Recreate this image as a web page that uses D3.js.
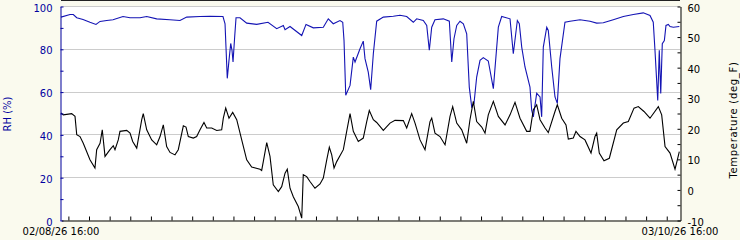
<!DOCTYPE html>
<html>
<head>
<meta charset="utf-8">
<script src="https://cdn.jsdelivr.net/npm/d3@7"></script>
<style>
  body { margin: 0; background: #fafaee; }
  svg { display: block; font-family: "DejaVu Sans", Verdana, sans-serif; }
</style>
</head>
<body>
<div id="chart"></div>
<script>
// RH (%) samples, hours after 02/08/26 16:00
var rhHours = [0, 10.5, 14.3, 18.3, 25.6, 33.7, 40.7, 45.4, 53.2, 60.5, 72.1, 80.3, 91.9, 99.7, 111.3, 126.6, 138.4, 146.2, 161.7, 173.3,
  188.4, 190.8, 191.9, 193.4, 195.4, 197.4, 198.9, 200.1, 202.0, 203.6, 208.2, 216.0, 227.6, 240.8, 250.9, 258.6, 260.6, 266.4, 280.0, 285.0,
  293.5, 305.1, 310.9, 316.7, 324.5, 327.7, 329.2, 331.2, 336.2, 340.0, 342.0, 347.8, 351.6, 353.6, 357.4, 360.2, 363.3, 367.2, 374.9, 386.5,
  394.3, 402.1, 409.8, 413.7, 421.4, 425.4, 428.4, 431.2, 435.0, 444.7, 451.7, 454.5, 457.1, 460.3, 464.1, 468.0, 471.9, 474.9, 477.7, 480.4,
  483.5, 487.4, 491.2, 497.0, 502.9, 508.7, 512.6, 522.3, 526.1, 530.8, 533.1, 535.9, 539.7, 545.5, 547.5, 549.4, 553.3, 557.2, 559.1, 561.0,
  565.0, 566.8, 570.8, 574.6, 577.3, 580.4, 586.2, 592.1, 603.7, 615.3, 623.1, 630.8, 642.4, 654.1, 665.7, 677.3, 685.1, 688.9, 690.9, 694.1,
  695.9, 697.6, 699.4, 701.8, 703.7, 706.4, 708.4, 712.2, 719.2];
var rhValues = [94.8, 96.0, 96.0, 94.5, 93.7, 92.4, 91.4, 92.8, 93.2, 93.6, 95.1, 94.5, 94.5, 95.1, 94.0, 93.6, 93.2, 94.8, 95.1, 95.2,
  95.1, 91.7, 80.8, 66.2, 74.6, 82.5, 79.3, 73.8, 85.5, 94.5, 94.5, 92.0, 91.4, 92.4, 89.4, 90.9, 88.9, 90.4, 86.2, 91.4,
  89.8, 90.1, 94.0, 91.7, 93.2, 92.4, 83.9, 58.3, 62.9, 76.1, 73.8, 80.0, 83.6, 75.4, 69.1, 60.9, 77.7, 92.9, 94.8, 95.2,
  95.7, 95.1, 92.4, 94.0, 93.2, 90.9, 79.3, 90.1, 93.6, 94.0, 92.9, 73.8, 84.7, 90.9, 92.9, 91.7, 87.0, 62.1, 52.8, 54.5,
  66.8, 74.6, 75.9, 74.3, 61.4, 90.1, 95.1, 94.0, 77.7, 93.2, 91.7, 80.8, 71.5, 62.1, 51.3, 48.2, 59.2, 57.5, 48.2, 80.8,
  90.1, 88.6, 71.5, 57.5, 54.5, 75.4, 92.4, 92.9, 93.6, 92.9, 92.0, 92.2, 93.6, 95.1, 96.0, 96.8, 95.6, 92.4, 79.3, 55.9,
  79.3, 59.1, 82.4, 83.9, 90.9, 91.4, 90.4, 90.1, 90.4];

// Temperature (deg_F) samples, hours after 02/08/26 16:00
var tempHours = [0, 2.7, 12.4, 16.3, 18.3, 22.1, 25.9, 33.7, 39.5, 41.5, 45.4, 48.0, 51.2, 57.0, 60.8, 62.8, 66.6, 68.6, 76.4, 80.3,
  83.4, 88.1, 93.9, 95.7, 99.7, 105.5, 111.3, 115.2, 119.0, 122.9, 126.8, 132.6, 136.4, 142.3, 145.4, 148.1, 153.9, 157.8, 161.7, 166.3,
  169.5, 175.3, 181.1, 186.9, 188.8, 191.6, 195.4, 199.7, 204.4, 210.2, 216.0, 221.8, 231.5, 233.4, 235.3, 239.3, 243.1, 246.9, 252.8, 256.7,
  260.6, 263.2, 266.4, 270.2, 276.0, 280.0, 281.8, 285.8, 289.6, 295.4, 301.3, 305.1, 309.1, 312.1, 314.9, 317.6, 320.7, 328.4, 332.3, 336.2,
  340.0, 345.8, 351.6, 355.6, 358.6, 363.3, 367.2, 374.9, 382.7, 388.5, 398.2, 402.1, 407.9, 411.8, 417.6, 423.4, 429.2, 431.2, 435.0, 440.8,
  446.7, 452.5, 455.6, 460.3, 466.1, 471.9, 475.7, 479.6, 483.5, 489.4, 493.2, 497.0, 502.9, 508.7, 516.5, 522.3, 528.1, 533.9, 541.7, 545.5,
  549.4, 553.3, 557.2, 563.0, 566.8, 574.6, 577.3, 582.4, 587.4, 590.1, 595.9, 599.0, 603.7, 609.5, 616.5, 621.1, 623.1, 626.1, 631.6, 637.8,
  646.4, 654.1, 659.9, 666.5, 671.5, 678.1, 685.1, 694.8, 698.7, 702.6, 708.4, 714.2, 716.9, 719.2];
var tempValues = [25.0, 24.4, 24.8, 23.9, 17.9, 17.3, 15.1, 9.7, 7.0, 13.0, 15.1, 19.5, 10.8, 13.0, 14.3, 13.0, 16.2, 19.0, 19.3, 18.4,
  15.7, 13.5, 22.8, 24.8, 19.5, 16.2, 14.6, 17.3, 21.1, 14.0, 12.1, 11.3, 13.0, 20.8, 20.4, 17.3, 16.8, 17.3, 19.5, 21.9,
  20.1, 20.1, 19.3, 19.5, 23.3, 26.6, 23.3, 25.2, 22.8, 16.2, 9.7, 7.3, 6.6, 6.2, 9.1, 15.3, 10.8, 1.5, -0.7, 0.9,
  5.3, 6.6, 0.4, -2.4, -5.6, -9.4, 4.8, 4.2, 2.6, 0.4, 1.8, 3.7, 9.7, 13.8, 11.3, 7.0, 9.1, 13.0, 19.0, 24.8,
  19.0, 15.7, 16.8, 22.2, 25.8, 22.8, 21.9, 19.3, 21.7, 22.6, 22.5, 20.1, 24.8, 21.7, 16.2, 13.0, 22.2, 23.3, 18.4, 17.3,
  14.6, 23.9, 27.1, 21.7, 19.5, 15.1, 22.8, 28.8, 22.2, 20.4, 18.4, 24.4, 28.8, 23.9, 21.1, 24.4, 28.5, 23.3, 19.0, 19.0,
  26.1, 27.7, 22.8, 20.1, 18.6, 25.5, 27.7, 23.3, 21.1, 16.5, 16.8, 19.0, 17.3, 16.2, 11.9, 17.3, 18.4, 11.9, 9.4, 10.2,
  19.5, 21.7, 22.2, 26.6, 27.1, 25.5, 23.3, 27.1, 24.4, 14.0, 11.9, 6.6, 9.7, 12.4];

var rhTicks = [0, 10, 20, 30, 40, 50, 60, 70, 80, 90, 100];
var rhGrid = [20, 40, 60, 80, 100];
var tempTicks = [-10, -5, 0, 5, 10, 15, 20, 25, 30, 35, 40, 45, 50, 55, 60];
var dateLabels = ["2026-02-08T16:00", "2026-03-10T16:00"];

var width = 740, height = 240;
var plotLeft = 61, plotRight = 680, plotTop = 6, plotBottom = 220;
var blue = "#0000a0", lineBlue = "#1414b4";

var start = new Date(dateLabels[0]);
var end = new Date(dateLabels[1]);
function atHour(h) { return new Date(start.getTime() + h * 3600e3); }

var x = d3.scaleTime().domain([start, end]).range([plotLeft, plotRight]);
var yRH = d3.scaleLinear().domain([0, 100]).range([plotBottom, plotTop]);
var yT = d3.scaleLinear().domain([-10, 60]).range([plotBottom, plotTop]);

var svg = d3.select("#chart").append("svg")
  .attr("width", width)
  .attr("height", height);

// plot background
svg.append("rect")
  .attr("x", plotLeft).attr("y", plotTop)
  .attr("width", plotRight - plotLeft).attr("height", plotBottom - plotTop)
  .attr("fill", "#ffffff");

svg.append("line")
  .attr("x1", plotLeft).attr("x2", plotRight)
  .attr("y1", 0.5).attr("y2", 0.5)
  .attr("stroke", "#222");

// gridlines
svg.append("g").selectAll("line")
  .data(rhGrid)
  .enter().append("line")
  .attr("x1", plotLeft).attr("x2", plotRight)
  .attr("y1", d => Math.round(yRH(d)) + 0.5)
  .attr("y2", d => Math.round(yRH(d)) + 0.5)
  .attr("stroke", "#cccccc")
  .attr("shape-rendering", "crispEdges");

// lines
var rhLine = d3.line()
  .x((d, i) => x(atHour(rhHours[i])))
  .y(d => yRH(d));
var tLine = d3.line()
  .x((d, i) => x(atHour(tempHours[i])))
  .y(d => yT(d));

svg.append("path")
  .datum(rhValues)
  .attr("d", rhLine)
  .attr("fill", "none")
  .attr("stroke", lineBlue)
  .attr("stroke-width", 1.1);

svg.append("path")
  .datum(tempValues)
  .attr("d", tLine)
  .attr("fill", "none")
  .attr("stroke", "#000")
  .attr("stroke-width", 1.1);

// left axis
var gL = svg.append("g")
  .attr("transform", "translate(" + (plotLeft - 0.5) + ",0.5)")
  .call(d3.axisLeft(yRH)
    .tickValues(rhTicks)
    .tickSizeInner(-3)
    .tickSizeOuter(0)
    .tickPadding(8)
    .tickFormat(d => d % 20 === 0 ? d : ""));
gL.select(".domain").attr("stroke", blue);
gL.selectAll(".tick line").attr("stroke", blue);
gL.selectAll("text").attr("fill", blue).attr("dy", "0.45em")
  .style("font-family", "DejaVu Sans").style("font-size", "10px");

// right axis
var gR = svg.append("g")
  .attr("transform", "translate(" + (plotRight + 0.5) + ",0.5)")
  .call(d3.axisRight(yT)
    .tickValues(tempTicks)
    .tickSizeInner(-3)
    .tickSizeOuter(0)
    .tickPadding(7)
    .tickFormat(d => d % 10 === 0 ? d : ""));
gR.select(".domain").attr("stroke", "#000");
gR.selectAll(".tick line").attr("stroke", "#000");
gR.selectAll("text").attr("fill", "#000").attr("dy", "0.45em")
  .style("font-family", "DejaVu Sans").style("font-size", "10px");

// bottom axis
var gB = svg.append("g")
  .attr("transform", "translate(0.5," + (plotBottom + 0.5) + ")")
  .call(d3.axisBottom(x)
    .ticks(d3.timeDay.every(1))
    .tickSizeInner(-4)
    .tickSizeOuter(0)
    .tickFormat(""));
gB.select(".domain").attr("stroke", "#000");
gB.selectAll(".tick line").attr("stroke", "#000");

var fmt = d3.timeFormat("%m/%d/%y %H:%M");
svg.append("g").selectAll("text")
  .data(dateLabels)
  .enter().append("text")
  .attr("x", d => x(new Date(d)))
  .attr("y", 235)
  .attr("text-anchor", "middle")
  .style("font-size", "10px")
  .attr("fill", "#000")
  .text(d => fmt(new Date(d)));

// axis titles
svg.append("text")
  .attr("transform", "translate(11," + 114 + ") rotate(-90)")
  .attr("text-anchor", "middle")
  .style("font-size", "10px")
  .attr("fill", blue)
  .text("RH (%)");

svg.append("text")
  .attr("transform", "translate(737," + 120 + ") rotate(-90)")
  .attr("text-anchor", "middle")
  .style("font-size", "10px")
  .style("letter-spacing", "0.7px")
  .attr("fill", "#000")
  .text("Temperature (deg_F)");
</script>
</body>
</html>
